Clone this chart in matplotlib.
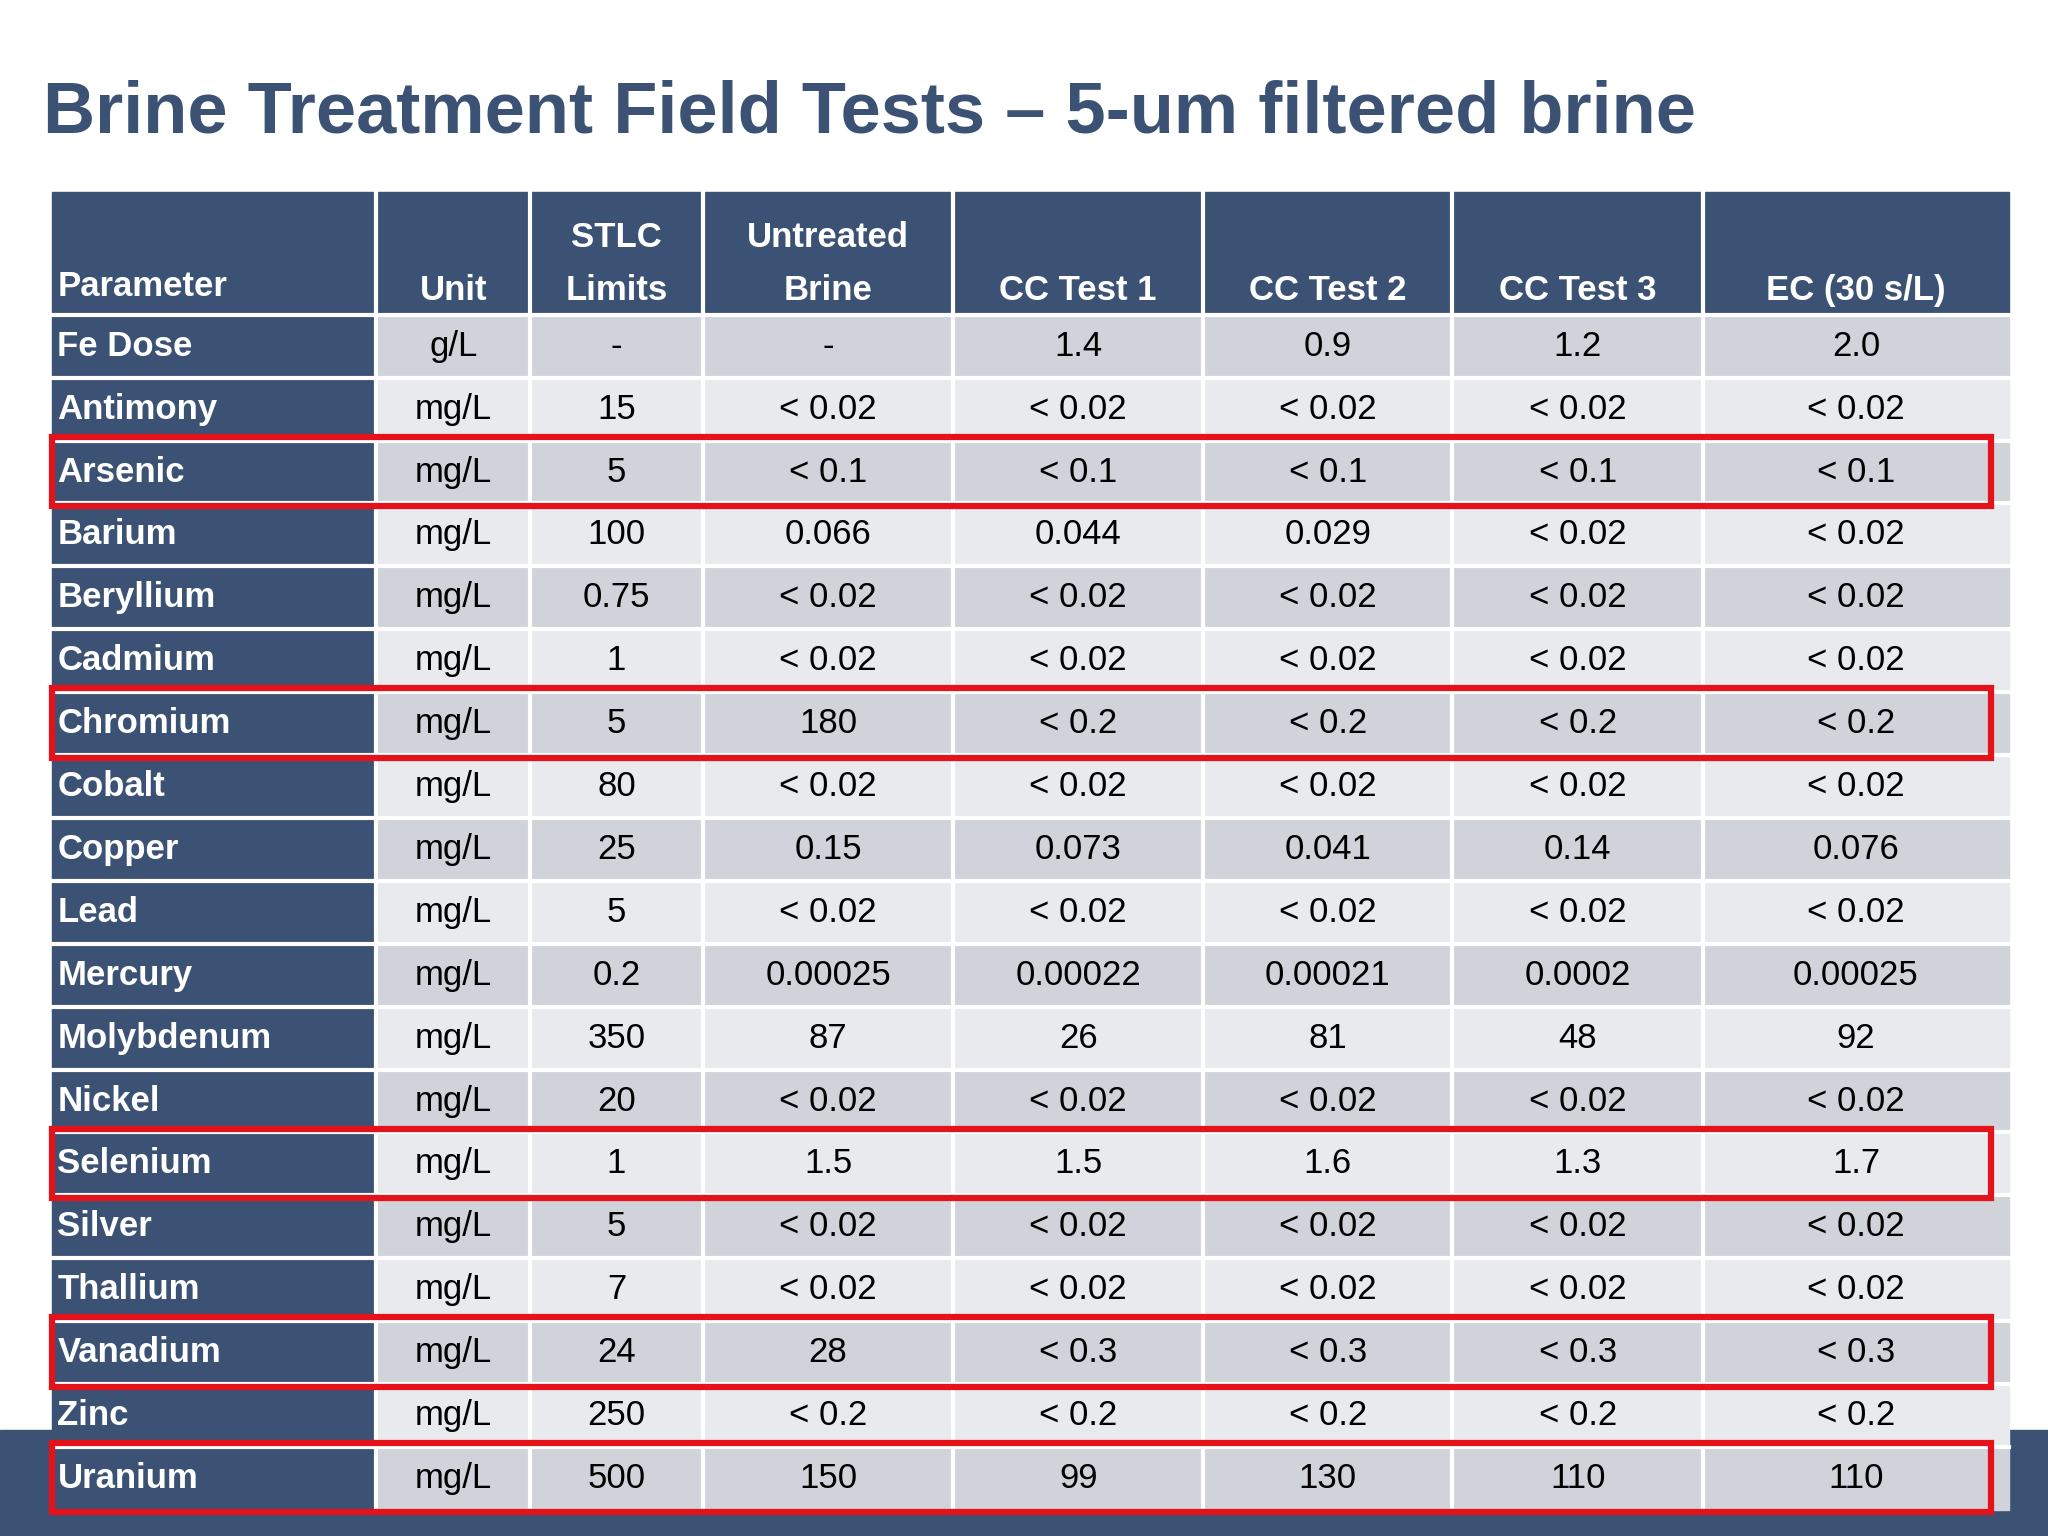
import matplotlib.pyplot as plt
from matplotlib.patches import Rectangle

plt.rcParams['font.family'] = ['Liberation Sans', 'DejaVu Sans']

title = "Brine Treatment Field Tests \u2013 5-um filtered brine"
headers = ["Parameter", "Unit", "STLC\nLimits", "Untreated\nBrine", "CC Test 1", "CC Test 2", "CC Test 3", "EC (30 s/L)"]
params = ["Fe Dose", "Antimony", "Arsenic", "Barium", "Beryllium", "Cadmium", "Chromium", "Cobalt",
          "Copper", "Lead", "Mercury", "Molybdenum", "Nickel", "Selenium", "Silver", "Thallium",
          "Vanadium", "Zinc", "Uranium"]
units = ["g/L"] + ["mg/L"] * 18
stlc = ["-", "15", "5", "100", "0.75", "1", "5", "80", "25", "5", "0.2", "350", "20", "1", "5", "7", "24", "250", "500"]
untreated = ["-", "< 0.02", "< 0.1", "0.066", "< 0.02", "< 0.02", "180", "< 0.02", "0.15", "< 0.02",
             "0.00025", "87", "< 0.02", "1.5", "< 0.02", "< 0.02", "28", "< 0.2", "150"]
cc1 = ["1.4", "< 0.02", "< 0.1", "0.044", "< 0.02", "< 0.02", "< 0.2", "< 0.02", "0.073", "< 0.02",
       "0.00022", "26", "< 0.02", "1.5", "< 0.02", "< 0.02", "< 0.3", "< 0.2", "99"]
cc2 = ["0.9", "< 0.02", "< 0.1", "0.029", "< 0.02", "< 0.02", "< 0.2", "< 0.02", "0.041", "< 0.02",
       "0.00021", "81", "< 0.02", "1.6", "< 0.02", "< 0.02", "< 0.3", "< 0.2", "130"]
cc3 = ["1.2", "< 0.02", "< 0.1", "< 0.02", "< 0.02", "< 0.02", "< 0.2", "< 0.02", "0.14", "< 0.02",
       "0.0002", "48", "< 0.02", "1.3", "< 0.02", "< 0.02", "< 0.3", "< 0.2", "110"]
ec = ["2.0", "< 0.02", "< 0.1", "< 0.02", "< 0.02", "< 0.02", "< 0.2", "< 0.02", "0.076", "< 0.02",
      "0.00025", "92", "< 0.02", "1.7", "< 0.02", "< 0.02", "< 0.3", "< 0.2", "110"]
highlight = ["Arsenic", "Chromium", "Selenium", "Vanadium", "Uranium"]

navy = "#3b5274"
dark_row = "#d1d3da"
light_row = "#e9eaee"
red = "#e3121b"

W, H = 1568, 1176
fig = plt.figure(figsize=(20.48, 15.36), dpi=100)
ax = fig.add_axes([0, 0, 1, 1])
ax.set_xlim(0, W)
ax.set_ylim(H, 0)
ax.axis("off")

# bottom band
ax.add_patch(Rectangle((0, 1095), W, H - 1095, color=navy, zorder=0))

ax.text(33, 87, title, fontsize=52, fontweight="bold", color=navy, va="center", ha="left")

xs = [40, 288, 406, 538, 730, 921, 1112, 1304, 1538]
top, head_bot = 147, 241
rh = (1156 - head_bot) / len(params)
cols = [units, stlc, untreated, cc1, cc2, cc3, ec]
fs = 25

# header
ax.add_patch(Rectangle((xs[0], top), xs[-1] - xs[0], head_bot - top, color=navy, zorder=1))
for j, h in enumerate(headers):
    x0, x1 = xs[j], xs[j + 1]
    if j == 0:
        ax.text(x0 + 4, head_bot - 22, h, color="white", fontsize=fs, fontweight="bold",
                ha="left", va="center", zorder=3)
    else:
        ax.text((x0 + x1) / 2, head_bot - 6, h, color="white", fontsize=fs, fontweight="bold",
                ha="center", va="bottom", linespacing=1.75, zorder=3)

for i, p in enumerate(params):
    y0 = head_bot + i * rh
    ax.add_patch(Rectangle((xs[0], y0), xs[1] - xs[0], rh, color=navy, zorder=1))
    ax.text(xs[0] + 4, y0 + rh / 2, p, color="white", fontsize=fs, fontweight="bold",
            ha="left", va="center", zorder=3)
    bg = dark_row if i % 2 == 0 else light_row
    ax.add_patch(Rectangle((xs[1], y0), xs[-1] - xs[1], rh, color=bg, zorder=1))
    for j, col in enumerate(cols):
        x0, x1 = xs[j + 1], xs[j + 2]
        ax.text((x0 + x1) / 2, y0 + rh / 2, col[i], color="black", fontsize=fs,
                ha="center", va="center", zorder=3)
    ax.plot([xs[0], xs[-1]], [y0, y0], color="white", lw=3, zorder=2)

for x in xs[1:-1]:
    ax.plot([x, x], [top, 1156], color="white", lw=3, zorder=2)

for name in highlight:
    i = params.index(name)
    y0 = head_bot + i * rh
    ax.add_patch(Rectangle((40, y0 - 3), 1484, rh + 5, fill=False, edgecolor=red, lw=4.5, zorder=4))

fig.savefig("out.png", dpi=100)
